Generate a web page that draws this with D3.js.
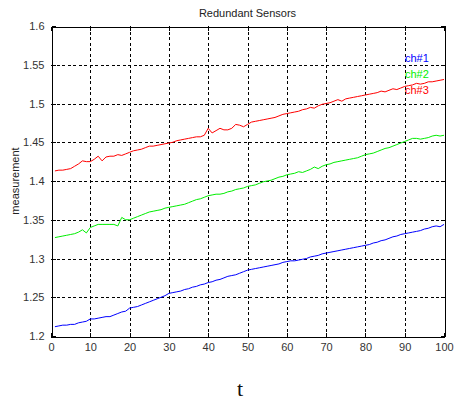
<!DOCTYPE html>
<html>
<head>
<meta charset="utf-8">
<script src="https://cdn.jsdelivr.net/npm/d3@7"></script>
<style>
  html, body { margin: 0; padding: 0; background: #fff; }
  svg { display: block; }
</style>
</head>
<body>
<svg id="chart" width="454" height="405"></svg>
<script>
// Sample index t = 1..100
const tValues = d3.range(1, 101);

// Three redundant channels measuring the same quantity
const ch1 = [
  1.212, 1.213, 1.214, 1.214, 1.215, 1.215, 1.217, 1.218, 1.219, 1.222,
  1.222, 1.223, 1.224, 1.225, 1.225, 1.227, 1.229, 1.231, 1.232, 1.236,
  1.237, 1.238, 1.240, 1.242, 1.244, 1.246, 1.248, 1.250, 1.252, 1.255,
  1.256, 1.257, 1.258, 1.260, 1.261, 1.263, 1.264, 1.266, 1.267, 1.269,
  1.270, 1.272, 1.273, 1.275, 1.277, 1.278, 1.279, 1.281, 1.283, 1.285,
  1.286, 1.287, 1.288, 1.289, 1.290, 1.291, 1.292, 1.293, 1.295, 1.296,
  1.297, 1.297, 1.298, 1.299, 1.300, 1.302, 1.303, 1.304, 1.306, 1.307,
  1.308, 1.309, 1.310, 1.311, 1.312, 1.313, 1.314, 1.315, 1.316, 1.317,
  1.318, 1.320, 1.321, 1.323, 1.324, 1.326, 1.328, 1.329, 1.331, 1.332,
  1.333, 1.334, 1.335, 1.336, 1.338, 1.339, 1.341, 1.342, 1.341, 1.344
];
const ch2 = [
  1.327, 1.328, 1.329, 1.330, 1.331, 1.332, 1.334, 1.337, 1.333, 1.340,
  1.342, 1.344, 1.344, 1.344, 1.344, 1.344, 1.342, 1.353, 1.350, 1.350,
  1.352, 1.354, 1.356, 1.358, 1.360, 1.361, 1.362, 1.363, 1.365, 1.366,
  1.367, 1.368, 1.369, 1.370, 1.372, 1.374, 1.376, 1.377, 1.379, 1.381,
  1.382, 1.383, 1.383, 1.384, 1.386, 1.387, 1.389, 1.390, 1.391, 1.393,
  1.394, 1.395, 1.397, 1.399, 1.400, 1.401, 1.403, 1.405, 1.406, 1.408,
  1.409, 1.410, 1.412, 1.411, 1.413, 1.415, 1.418, 1.416, 1.419, 1.421,
  1.422, 1.424, 1.425, 1.426, 1.427, 1.428, 1.429, 1.430, 1.432, 1.434,
  1.435, 1.436, 1.438, 1.440, 1.442, 1.443, 1.445, 1.447, 1.449, 1.451,
  1.453, 1.455, 1.455, 1.454, 1.455, 1.456, 1.458, 1.459, 1.458, 1.459
];
const ch3 = [
  1.413, 1.414, 1.414, 1.415, 1.416, 1.419, 1.422, 1.426, 1.425, 1.425,
  1.428, 1.432, 1.426, 1.431, 1.432, 1.432, 1.434, 1.433, 1.435, 1.437,
  1.439, 1.440, 1.441, 1.443, 1.445, 1.445, 1.446, 1.447, 1.448, 1.449,
  1.450, 1.452, 1.453, 1.454, 1.455, 1.456, 1.457, 1.457, 1.459, 1.468,
  1.462, 1.465, 1.468, 1.466, 1.466, 1.468, 1.473, 1.472, 1.470, 1.473,
  1.476, 1.477, 1.478, 1.479, 1.480, 1.481, 1.482, 1.484, 1.486, 1.487,
  1.488, 1.489, 1.490, 1.492, 1.493, 1.495, 1.494, 1.497, 1.499, 1.500,
  1.501, 1.503, 1.505, 1.503, 1.506, 1.507, 1.508, 1.509, 1.510, 1.511,
  1.512, 1.513, 1.514, 1.516, 1.515, 1.517, 1.519, 1.518, 1.520, 1.522,
  1.523, 1.524, 1.526, 1.525, 1.526, 1.528, 1.528, 1.529, 1.530, 1.531
];

const seriesNames = ["ch#1", "ch#2", "ch#3"];
const seriesColors = ["#0000ff", "#00ee00", "#ff0000"];
const seriesValues = [ch1, ch2, ch3];

const xTicks = [0, 10, 20, 30, 40, 50, 60, 70, 80, 90, 100];
const yTicks = [1.2, 1.25, 1.3, 1.35, 1.4, 1.45, 1.5, 1.55, 1.6];
const yTickLabels = ["1.2", "1.25", "1.3", "1.35", "1.4", "1.45", "1.5", "1.55", "1.6"];

const svg = d3.select("#chart");
const plotLeft = 51, plotRight = 444, plotTop = 26, plotBottom = 336;
const font = "Liberation Sans, Arial, sans-serif";

const x = d3.scaleLinear().domain([0, 100]).range([plotLeft, plotRight]);
const y = d3.scaleLinear().domain([1.2, 1.6]).range([plotBottom, plotTop]);

// Dashed grid
const grid = svg.append("g").attr("stroke", "#000").attr("stroke-width", 1)
  .attr("stroke-dasharray", "3,2.5").attr("shape-rendering", "crispEdges");
grid.selectAll("line.vx").data(xTicks.slice(1, -1)).join("line")
  .attr("class", "vx")
  .attr("x1", d => Math.round(x(d)) + 0.5).attr("x2", d => Math.round(x(d)) + 0.5)
  .attr("y1", plotTop).attr("y2", plotBottom);
grid.selectAll("line.hy").data(yTicks.slice(1, -1)).join("line")
  .attr("class", "hy")
  .attr("y1", d => Math.round(y(d)) + 0.5).attr("y2", d => Math.round(y(d)) + 0.5)
  .attr("x1", plotLeft).attr("x2", plotRight);

// Data lines
const line = d3.line().x((d, i) => x(tValues[i])).y(d => y(d));
svg.append("g").selectAll("path").data(seriesValues).join("path")
  .attr("d", d => line(d))
  .attr("fill", "none")
  .attr("stroke", (d, i) => seriesColors[i])
  .attr("stroke-width", 1);

// Axes with inward ticks
const xAxis = d3.axisBottom(x).tickValues(xTicks).tickSize(-4).tickPadding(7);
const yAxis = d3.axisLeft(y).tickValues(yTicks)
  .tickFormat((d, i) => yTickLabels[i]).tickSize(-4).tickPadding(7);

svg.append("g").attr("transform", `translate(0,${plotBottom + 0.5})`).call(xAxis);
svg.append("g").attr("transform", `translate(${plotLeft + 0.5},0)`).call(yAxis);
svg.append("g").attr("transform", `translate(0,${plotTop + 0.5})`)
  .call(d3.axisTop(x).tickValues(xTicks).tickSize(-4).tickFormat(""));
svg.append("g").attr("transform", `translate(${plotRight + 0.5},0)`)
  .call(d3.axisRight(y).tickValues(yTicks).tickSize(-4).tickFormat(""));

svg.selectAll(".domain").attr("stroke", "#000").attr("shape-rendering", "crispEdges");
svg.selectAll(".tick line").attr("stroke", "#000").attr("shape-rendering", "crispEdges");
svg.selectAll(".tick text").attr("font-family", font).attr("font-size", 11).attr("fill", "#333");

// Title and axis labels
svg.append("text").attr("x", (plotLeft + plotRight) / 2).attr("y", 17)
  .attr("text-anchor", "middle").attr("font-family", font).attr("font-size", 11)
  .attr("fill", "#222").text("Redundant Sensors");

svg.append("text").attr("transform", `translate(19,${(plotTop + plotBottom) / 2}) rotate(-90)`)
  .attr("text-anchor", "middle").attr("font-family", font).attr("font-size", 11)
  .attr("fill", "#222").text("measurement");

svg.append("text").attr("x", 240).attr("y", 396)
  .attr("text-anchor", "middle").attr("font-family", "Liberation Serif, Times New Roman, serif")
  .attr("font-size", 22).attr("fill", "#111").text("t");

// Channel labels
svg.append("g").selectAll("text").data(seriesNames).join("text")
  .attr("x", 405).attr("y", (d, i) => 62 + i * 16)
  .attr("font-family", font).attr("font-size", 11)
  .attr("fill", (d, i) => seriesColors[i]).text(d => d);
</script>
</body>
</html>
